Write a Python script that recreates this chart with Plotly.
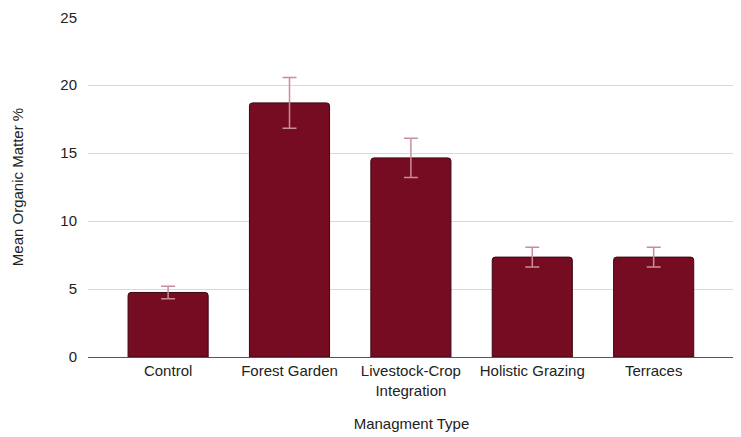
import plotly.graph_objects as go

categories = ["Control", "Forest Garden", "Livestock-Crop<br>Integration", "Holistic Grazing", "Terraces"]
means = [4.75, 18.7, 14.65, 7.35, 7.35]
errors = [0.46, 1.87, 1.45, 0.73, 0.73]
y_ticks = [0, 5, 10, 15, 20, 25]

fig = go.Figure()
fig.add_trace(go.Bar(
    x=categories,
    y=means,
    width=0.66,
    marker=dict(color="#760c22", line=dict(color="#3d0712", width=1), cornerradius=3),
    error_y=dict(type="data", array=errors, visible=True, color="#c98d99", thickness=1.5, width=7),
))

font = dict(family="Liberation Sans, Arial, Helvetica, sans-serif", size=15, color="#222222")
fig.update_layout(
    width=733, height=429,
    margin=dict(l=80, r=6, t=9, b=80, autoexpand=False),
    paper_bgcolor="white", plot_bgcolor="white",
    font=font,
    showlegend=False,
)
fig.update_xaxes(
    range=[-0.66, 4.67],
    showgrid=False,
    showline=True, linecolor="#555555", linewidth=1,
    ticks="", automargin=False,
    title=dict(text="Managment Type", standoff=20, font=font),
    tickfont=font,
)
fig.update_yaxes(
    range=[0, 25.02],
    tickvals=y_ticks,
    showgrid=True, gridcolor="#d9d9d9", gridwidth=1,
    zeroline=False, showline=False,
    ticks="outside", ticklen=7, tickcolor="rgba(0,0,0,0)",
    ticklabeloverflow="allow",
    automargin=False,
    title=dict(text="Mean Organic Matter %", standoff=33, font=font),
    tickfont=font,
)
fig.write_html("out.html")
